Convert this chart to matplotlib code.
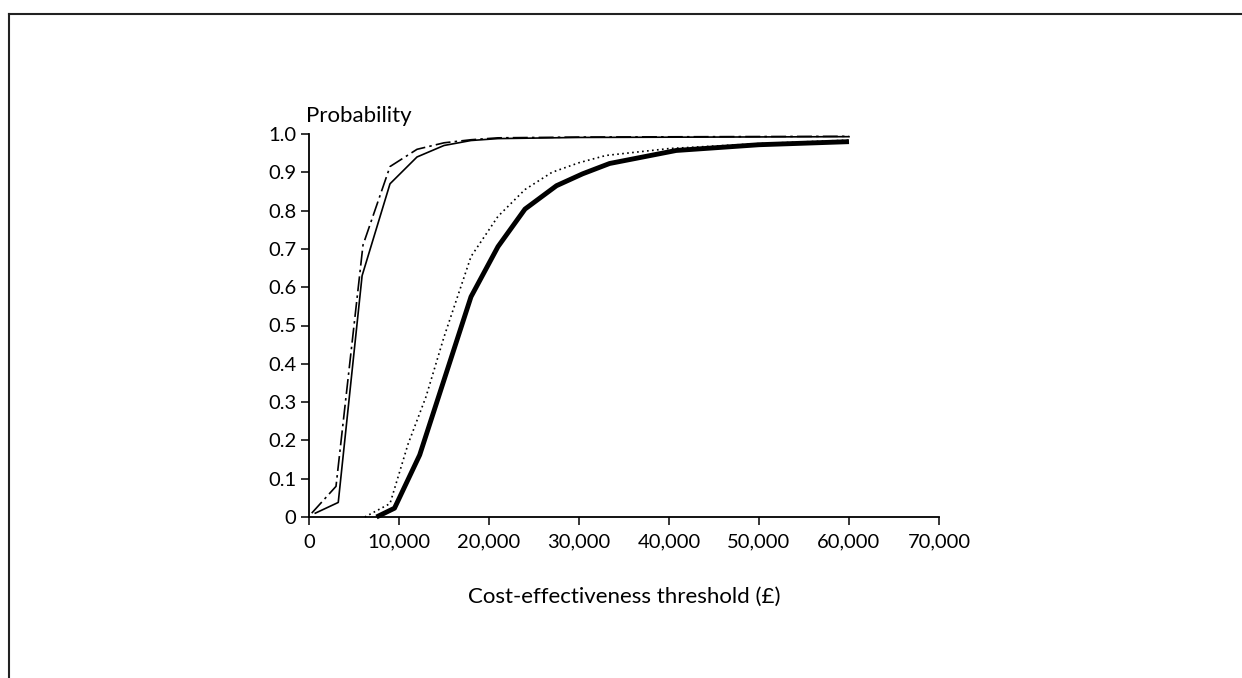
import matplotlib
matplotlib.use("Agg")
import matplotlib.pyplot as plt
from matplotlib.lines import Line2D

plt.rcParams['font.family'] = ['Lato', 'DejaVu Sans']

# Strategy curves (cost-effectiveness acceptability curves)
thin_x = [700, 3250, 5900, 9000, 12000, 15000, 18000, 21000, 30000, 45000, 60000]
thin_y = [0.01, 0.038, 0.63, 0.87, 0.94, 0.97, 0.983, 0.988, 0.991, 0.992, 0.993]

dashdot_x = [300, 3000, 6000, 9000, 12000, 15000, 18000, 21000, 30000, 45000, 60000]
dashdot_y = [0.01, 0.08, 0.71, 0.915, 0.96, 0.977, 0.985, 0.99, 0.992, 0.993, 0.994]

dotted_x = [6200, 9000, 11000, 13000, 15000, 16500, 18000, 21000, 24000, 27000,
            30000, 33000, 40000, 50000, 60000]
dotted_y = [0.0, 0.035, 0.19, 0.314, 0.47, 0.575, 0.68, 0.785, 0.855, 0.9,
            0.925, 0.944, 0.962, 0.975, 0.984]

thick_x = [7500, 9500, 12300, 18000, 21000, 24000, 27500, 30400, 33400, 40800, 50000, 60000]
thick_y = [0.0, 0.023, 0.162, 0.575, 0.706, 0.804, 0.865, 0.896, 0.923, 0.957, 0.972, 0.98]

xticks = [0, 10000, 20000, 30000, 40000, 50000, 60000, 70000]
xtick_labels = ['0', '10,000', '20,000', '30,000', '40,000', '50,000', '60,000', '70,000']
yticks = [0, 0.1, 0.2, 0.3, 0.4, 0.5, 0.6, 0.7, 0.8, 0.9, 1.0]
ytick_labels = ['0', '0.1', '0.2', '0.3', '0.4', '0.5', '0.6', '0.7', '0.8', '0.9', '1.0']

W, H = 1242, 678
fig = plt.figure(figsize=(W / 100, H / 100), dpi=100)
fig.patch.set_facecolor('white')

ax = fig.add_axes([309 / W, 1 - 517 / H, (939 - 309) / W, (517 - 134) / H])

ax.plot(thin_x, thin_y, color='black', lw=1.2, linestyle='-', clip_on=False, zorder=3)
ax.plot(dashdot_x, dashdot_y, color='black', lw=1.2, linestyle=(0, (9, 2.5, 1.5, 2.5)),
        clip_on=False, zorder=3)
ax.plot(dotted_x, dotted_y, color='black', lw=1.2, linestyle=(0, (1, 2)), clip_on=False, zorder=3)
ax.plot(thick_x, thick_y, color='black', lw=3.5, linestyle='-', solid_capstyle='butt',
        clip_on=False, zorder=3)

ax.set_xlim(0, 70000)
ax.set_ylim(0, 1.0)
ax.set_xticks(xticks)
ax.set_xticklabels(xtick_labels)
ax.set_yticks(yticks)
ax.set_yticklabels(ytick_labels)

for s in ['top', 'right']:
    ax.spines[s].set_visible(False)
for s in ['left', 'bottom']:
    ax.spines[s].set_linewidth(1.3)
    ax.spines[s].set_color('black')

ax.tick_params(axis='both', direction='out', length=6, width=1.1, colors='black',
               labelsize=14.5)
ax.tick_params(axis='y', pad=3)
ax.tick_params(axis='x', pad=6)

ax.set_xlabel('Cost-effectiveness threshold (£)', fontsize=16, labelpad=26)
fig.text(306 / W, 1 - 122 / H, 'Probability', fontsize=16, ha='left', va='baseline')

# Page frame (top and left edges visible)
fig.add_artist(Line2D([9 / W, 1.0], [1 - 14 / H, 1 - 14 / H], color='#222222', lw=1.5,
                      transform=fig.transFigure))
fig.add_artist(Line2D([9 / W, 9 / W], [0.0, 1 - 14 / H], color='#222222', lw=1.5,
                      transform=fig.transFigure))

fig.savefig('out.png', dpi=100, facecolor='white')
